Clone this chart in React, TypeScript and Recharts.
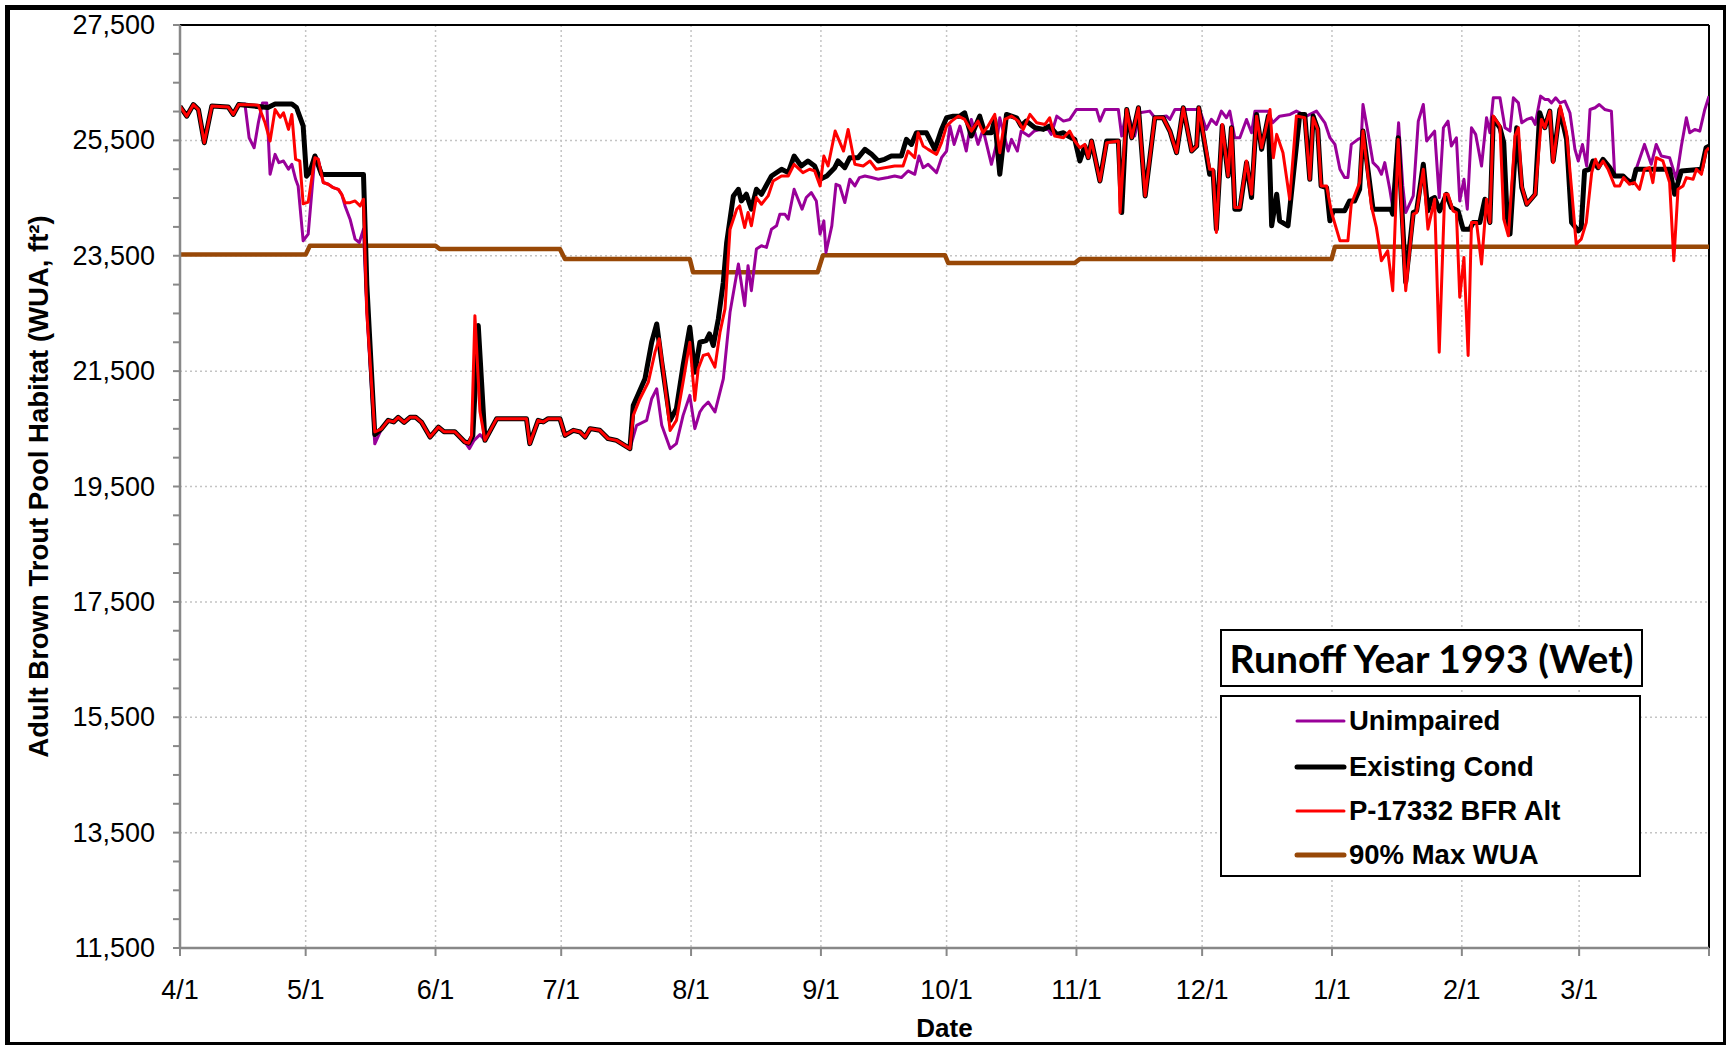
import React from 'react';
import { LineChart, Line, XAxis, YAxis, CartesianGrid, ReferenceLine } from 'recharts';

const W = 1727;
const H = 1046;

// x = day offset from April 1 (runoff year 1993), y = WUA (ft²)
const monthTicks = [0, 30, 61, 91, 122, 153, 183, 214, 244, 275, 306, 334, 365];
const monthLabels = ['4/1', '5/1', '6/1', '7/1', '8/1', '9/1', '10/1', '11/1', '12/1', '1/1', '2/1', '3/1', ''];
const yMajorTicks = [11500, 13500, 15500, 17500, 19500, 21500, 23500, 25500, 27500];
const yMinorStep = 500;

const unimpaired: [number, number][] = [
  [0, 26090], [1.6, 25920], [3.2, 26120], [4.4, 26036], [5.8, 25460], [7.6, 26094], [11.5, 26080], [12.7, 25950], [14, 26120],
  [15.5, 26130], [16.5, 25546], [17.7, 25373], [18.7, 25805], [19.7, 26150], [20.7, 26150], [21.5, 24912], [22.7, 25258],
  [23.6, 25114], [24.7, 25143], [25.9, 25000], [26.7, 25085], [27.6, 24826], [28.2, 24710], [29.4, 23760], [30.6, 23875],
  [32.2, 25229], [33, 25172], [34.2, 24770], [35.4, 24740], [36.6, 24680], [37.8, 24650], [38.6, 24565], [39.4, 24364],
  [40.6, 24134], [41.8, 23788], [42.8, 23730], [43.8, 23961], [44.6, 22520], [46.5, 20240], [48.1, 20500], [49.7, 20646],
  [51, 20620], [52.1, 20700], [53.5, 20610], [54.9, 20700], [56.3, 20700], [57.7, 20610], [59.7, 20358], [61.7, 20530],
  [63, 20450], [65.6, 20450], [68, 20272], [69.1, 20157], [70.2, 20300], [71.6, 20400], [72.8, 20300], [75.6, 20676],
  [82.7, 20676], [83.5, 20243], [85.5, 20646], [86.7, 20620], [87.9, 20676], [90.7, 20676], [91.9, 20387], [93.9, 20474],
  [95.5, 20445], [96.7, 20358], [97.9, 20503], [100.2, 20474], [102.2, 20330], [104.2, 20300], [107.4, 20157], [109, 20560],
  [111.4, 20646], [112.6, 21022], [113.8, 21194], [115, 20560], [117, 20157], [118.5, 20243], [120.1, 20733], [121.7, 21080],
  [122.9, 20503], [124.1, 20791], [124.9, 20878], [126.1, 20965], [127.7, 20791], [129.7, 21367], [131.3, 22520],
  [133.3, 23356], [134.8, 22635], [135.6, 23327], [136.4, 22895], [137.6, 23615], [138.8, 23673], [140, 23644],
  [141.2, 23961], [142.4, 24019], [143.2, 24220], [144.4, 24220], [145.2, 24134], [146.6, 24652], [148.5, 24307],
  [149.5, 24509], [150.7, 24595], [151.9, 24450], [152.8, 23875], [153.7, 24105], [154.2, 23557], [155.6, 24019],
  [156.6, 24739], [157.5, 24710], [158.7, 24422], [159.9, 24826], [161.1, 24710], [162.2, 24855], [163.5, 24883],
  [165.1, 24855], [166.7, 24826], [169, 24855], [170.6, 24883], [172.2, 24855], [173.8, 24970], [175.4, 24912],
  [176.4, 25229], [177.4, 25027], [178.6, 25085], [180.6, 24941], [181.8, 25200], [183, 25315], [183.8, 25748],
  [184.8, 25430], [186.2, 25748], [187.7, 25315], [188.9, 25863], [190.5, 25430], [191.7, 25690], [193.7, 25085],
  [194.9, 25430], [195.7, 25892], [197.7, 25315], [198.5, 25517], [199.9, 25315], [200.8, 25661], [202.6, 25575],
  [203.9, 25661], [205.6, 25690], [207.3, 25690], [208, 25604], [209.3, 25921], [210.9, 25834], [212.4, 25863],
  [214, 26036], [218.8, 26036], [219.6, 25834], [220.8, 26036], [224, 26036], [224.8, 25575], [226, 26036],
  [227.9, 25575], [229.1, 25978], [231.5, 26007], [232.7, 25892], [235.5, 25921], [236.3, 25863], [237.5, 26036],
  [243.4, 26036], [245, 25690], [246.2, 25863], [247.4, 25776], [248.6, 26007], [249.8, 25892], [250.6, 26007],
  [251.8, 25546], [253, 25546], [254.6, 25863], [255.8, 25632], [256.6, 26007], [259.8, 26007], [260.8, 25805],
  [262.5, 25920], [265, 25950], [266.5, 26007], [268.9, 25921], [271.3, 26007], [273.3, 25805], [274.5, 25546],
  [275.7, 25430], [276.9, 25000], [278, 24855], [278.8, 24855], [279.6, 25430], [281.2, 25517], [282, 25546],
  [282.4, 26122], [283.6, 25632], [284.8, 25114], [286, 25027], [286.8, 24912], [287.6, 25114], [288.8, 24652],
  [289.5, 24336], [290.9, 25805], [291.9, 24710], [292.6, 24249], [294.4, 24537], [295.6, 25834], [296.8, 26122],
  [297.6, 25490], [299.5, 25661], [300.6, 24509], [301.6, 25719], [302.7, 25834], [303.5, 25402], [304.7, 25546],
  [305.5, 24450], [306.5, 24826], [307.3, 24307], [308.3, 25719], [309.3, 25604], [310.7, 25056], [311.9, 25892],
  [312.7, 25632], [313.5, 26238], [315.1, 26238], [316.3, 25719], [317.5, 25661], [318.3, 26238], [319.5, 26150],
  [320.3, 25805], [321.5, 25863], [322.7, 25892], [323.5, 25776], [324.8, 26267], [325.8, 26210], [326.6, 26210],
  [327.4, 26150], [328.4, 26238], [329.4, 26150], [330.6, 26180], [331.8, 25978], [333, 25344], [333.8, 25143],
  [334.8, 25430], [335.8, 25056], [336.6, 26036], [337.8, 26065], [338.8, 26122], [340.1, 26036], [341.7, 26007],
  [342.5, 24883], [344.5, 24883], [346.8, 24768], [347.6, 25000], [349.6, 25430], [351.2, 25085], [352.4, 25430],
  [353.6, 25230], [355.6, 25200], [357.2, 24826], [358.4, 25402], [359.6, 25892], [360.4, 25632], [361.6, 25690],
  [362.8, 25661], [364, 26036], [365, 26267],
];

const existingCond: [number, number][] = [
  [0, 26090], [1.6, 25920], [3.2, 26120], [4.4, 26036], [5.8, 25460], [7.6, 26094], [11.5, 26080], [12.7, 25950], [14, 26120],
  [21, 26070], [22.7, 26130], [26.7, 26130], [27.8, 26070], [29.4, 25750], [30.2, 24880], [31, 24950], [32.2, 25230],
  [33.8, 24910], [43.8, 24910], [44.6, 23000], [46.5, 20400], [48.1, 20500], [49.7, 20646], [51, 20620], [52.1, 20700],
  [53.5, 20610], [54.9, 20700], [56.3, 20700], [57.7, 20610], [59.7, 20358], [61.7, 20530], [63, 20450], [65.6, 20450],
  [68, 20272], [68.9, 20250], [69.9, 20380], [71.2, 22290], [72.8, 20300], [75.6, 20676], [82.7, 20676], [83.5, 20243],
  [85.5, 20646], [86.7, 20620], [87.9, 20676], [90.7, 20676], [91.9, 20387], [93.9, 20474], [95.5, 20445], [96.7, 20358],
  [97.9, 20503], [100.2, 20474], [102.2, 20330], [104.2, 20300], [107.4, 20157], [108.2, 20906], [111, 21367],
  [112.6, 22000], [113.8, 22318], [115, 21655], [117, 20646], [118.5, 20850], [120.1, 21600], [121.7, 22260],
  [122.9, 21482], [124.1, 22000], [125.6, 22030], [126.4, 22145], [127.3, 21944], [128.5, 22400], [129.7, 23040],
  [130.5, 23730], [132.1, 24537], [133.3, 24652], [134, 24450], [135.2, 24566], [136.4, 24307], [137.6, 24652],
  [138.8, 24566], [141.2, 24883], [143.6, 25000], [145.2, 24941], [146.6, 25229], [148.3, 25056], [149.9, 25143],
  [151.5, 25056], [152.8, 24826], [154.4, 24883], [156.3, 25027], [157.1, 25143], [158.7, 25027], [159.9, 25200],
  [161.9, 25200], [163.5, 25344], [165.1, 25258], [166.7, 25143], [168.2, 25172], [169.8, 25229], [172.2, 25229],
  [173.4, 25517], [174.6, 25430], [175.8, 25632], [178.2, 25632], [180.2, 25344], [181.8, 25690], [183, 25892],
  [184.6, 25920], [186.2, 25920], [187.3, 25978], [188.9, 25575], [190.9, 25920], [192.1, 25632], [193.7, 25632],
  [194.5, 25863], [195.7, 24912], [197.3, 25950], [198.5, 25921], [199.7, 25892], [200.8, 25748], [202, 25834],
  [204.1, 25719], [206.1, 25690], [207.6, 25748], [209.3, 25604], [210.9, 25632], [212, 25575], [213.6, 25517],
  [214.8, 25143], [216, 25402], [216.8, 25200], [217.6, 25489], [219.6, 24797], [221.2, 25489], [224, 25489],
  [224.8, 24249], [226, 26036], [227.2, 25546], [228.8, 26065], [230.4, 24537], [232.7, 25892], [234.7, 25892],
  [236.3, 25661], [237.9, 25287], [239.5, 26065], [241.5, 25315], [242.7, 25402], [243.2, 26065], [245.8, 24912],
  [246.6, 24970], [247.4, 23961], [248.8, 25748], [250.2, 24883], [251, 25719], [251.8, 24307], [253, 24307],
  [254.6, 25114], [255.8, 24509], [257, 25950], [258.2, 25344], [259.8, 25920], [260.6, 24019], [261.8, 24566],
  [262.5, 24105], [264.5, 24019], [267.3, 25950], [268.5, 25950], [269.7, 24826], [270.5, 25921], [271.6, 25690],
  [272.4, 24710], [273.7, 24681], [274.5, 24105], [275.3, 24278], [278, 24278], [279.2, 24450], [280.4, 24450],
  [281.6, 24652], [282.4, 25661], [284.8, 24307], [289.1, 24307], [289.5, 24220], [290.8, 25546], [292.6, 23039],
  [294.4, 24249], [295.2, 24278], [296.8, 25085], [297.9, 24278], [298.7, 24480], [299.5, 24509], [300.7, 24278],
  [302.3, 24566], [303.5, 24336], [305.1, 24278], [306.3, 23961], [307.9, 23961], [308.7, 24076], [310.3, 24076],
  [311.5, 24480], [312.7, 24076], [313.5, 25892], [315.1, 25719], [316, 25460], [316.8, 24192], [317.5, 23875],
  [319.1, 25719], [320.3, 24681], [321.5, 24393], [323.5, 24566], [324.6, 25978], [325.8, 25719], [327, 26007],
  [327.8, 25143], [329.4, 26036], [331, 25517], [332.2, 24076], [333.8, 23932], [334.5, 23990], [335.3, 24970],
  [336.6, 25000], [337.3, 25143], [338.5, 25027], [339.7, 25172], [341.3, 25027], [342.5, 24883], [344.5, 24883],
  [345.7, 24797], [346.8, 24768], [347.6, 25000], [355.6, 25000], [356.8, 24566], [358.4, 24970], [363.2, 25000],
  [364.3, 25373], [365, 25400],
];

const bfrAlt: [number, number][] = [
  [0, 26090], [1.6, 25920], [3.2, 26120], [4.4, 26036], [5.8, 25460], [7.6, 26094], [11.5, 26080], [12.7, 25950], [14, 26120],
  [18.7, 26110], [20.3, 25805], [21.5, 25490], [22.7, 26036], [23.9, 25900], [24.7, 25978], [25.9, 25690], [26.7, 25950],
  [27.6, 25172], [28.6, 25143], [29.4, 24400], [30.6, 24430], [32.2, 25200], [33, 25172], [34.2, 24770], [35.4, 24740],
  [36.6, 24680], [37.8, 24650], [38.6, 24565], [39.4, 24420], [40.6, 24420], [41.8, 24450], [43, 24364], [43.8, 24480],
  [44.6, 22520], [46.5, 20445], [48.1, 20500], [49.7, 20646], [51, 20620], [52.1, 20700], [53.5, 20610], [54.9, 20700],
  [56.3, 20700], [57.7, 20610], [59.7, 20358], [61.7, 20530], [63, 20450], [65.6, 20450], [68, 20272], [68.9, 20250],
  [69.6, 20380], [70.4, 22462], [71.6, 20800], [72.8, 20300], [75.6, 20676], [82.7, 20676], [83.5, 20243], [85.5, 20646],
  [86.7, 20620], [87.9, 20676], [90.7, 20676], [91.9, 20387], [93.9, 20474], [95.5, 20445], [96.7, 20358], [97.9, 20503],
  [100.2, 20474], [102.2, 20330], [104.2, 20300], [107.4, 20157], [108.2, 20733], [109.8, 21022], [111.8, 21310],
  [113.4, 21830], [114.4, 22060], [115.4, 21482], [117, 20470], [118.5, 20646], [120.1, 21310], [121.7, 22000],
  [122.9, 20993], [123.7, 21540], [124.9, 21771], [126.1, 21800], [127.7, 21569], [128.9, 22170], [130.1, 22580],
  [131.3, 23961], [132.9, 24307], [133.6, 24364], [134.8, 23990], [135.6, 24250], [136.4, 24019], [137.6, 24509],
  [138.8, 24393], [140.4, 24537], [141.6, 24797], [143.6, 24883], [145.2, 24883], [146.6, 25085], [148.7, 24941],
  [150.3, 25000], [151.5, 24970], [152.8, 24710], [153.7, 25229], [154.7, 25056], [156.4, 25661], [158.4, 25315],
  [159.5, 25690], [161.1, 25085], [163.1, 25056], [164.7, 25143], [166.2, 25000], [168.2, 25027], [170.6, 25056],
  [172.6, 25056], [173.8, 25315], [175.4, 25200], [176.2, 25632], [177.4, 25402], [178.6, 25344], [180.6, 25258],
  [181.8, 25460], [183, 25748], [184.2, 25834], [185.8, 25920], [187.3, 25863], [188.9, 25661], [190.5, 25834],
  [191.7, 25632], [192.9, 25748], [194.5, 25950], [195.7, 25287], [196.9, 25863], [198.5, 25921], [200.1, 25834],
  [201.3, 25690], [202.9, 25950], [204.5, 25805], [206.5, 25776], [207.6, 25892], [208.8, 25575], [210.9, 25546],
  [212.4, 25661], [213.6, 25489], [214.8, 25373], [216, 25430], [216.8, 25200], [217.6, 25489], [219.6, 24797],
  [221.2, 25460], [224, 25489], [224.4, 24249], [226, 26036], [227.2, 25546], [228.8, 26065], [230.4, 24537],
  [232.7, 25892], [234.7, 25892], [236.3, 25661], [237.9, 25287], [239.5, 26065], [241.5, 25315], [242.7, 25402],
  [243.2, 26065], [245.8, 25000], [246.6, 25000], [247.4, 23904], [248.8, 25776], [250.2, 24883], [251, 25719],
  [251.8, 24336], [253, 24336], [254.6, 25143], [255.8, 24566], [257, 25920], [258.2, 25373], [260.2, 26036],
  [261, 25200], [261.8, 25604], [263.3, 25287], [264.9, 24480], [266.5, 25921], [268.5, 25892], [269.7, 24826],
  [270.5, 25892], [271.6, 25690], [272.4, 24710], [273.7, 24710], [274.9, 24249], [276.9, 23759], [278.8, 23759],
  [279.6, 24393], [281.6, 24768], [282.4, 25661], [284.4, 24364], [285.6, 23990], [286.8, 23413], [288.3, 23586],
  [289.5, 22895], [290.8, 25517], [292.6, 22895], [294.4, 24220], [295.2, 24249], [296.8, 25000], [297.9, 23961],
  [299.5, 24480], [300.6, 21828], [301.9, 24566], [302.7, 24566], [303.9, 24278], [304.7, 24249], [305.5, 22780],
  [306.5, 23471], [307.5, 21770], [308.3, 24076], [309.5, 24076], [310.7, 23356], [311.9, 24480], [312.7, 24076],
  [313.5, 25921], [315.1, 25748], [316, 24134], [317.1, 23846], [318.7, 25575], [319.5, 25719], [320.3, 24710],
  [321.5, 24393], [323.5, 24566], [325, 25863], [325.8, 25719], [327, 26007], [327.8, 25114], [329.5, 26094],
  [331, 25632], [332.2, 24652], [333.3, 23702], [334.5, 23788], [335.7, 24076], [337, 24941], [337.9, 25172],
  [338.7, 25027], [339.7, 25143], [340.9, 25000], [342.5, 24710], [343.7, 24710], [344.6, 24855], [346, 24740],
  [347.2, 24768], [348.4, 24652], [349.6, 25000], [350.8, 25027], [351.6, 24768], [352.4, 25200], [354, 25143],
  [355.6, 24768], [356.6, 23413], [357.6, 24652], [358.8, 24710], [359.6, 24855], [361.2, 24826], [362, 25000],
  [363.2, 24912], [364.3, 25315], [365, 25373],
];

const maxWua90: [number, number][] = [
  [0, 23520], [30, 23520], [31, 23673], [61, 23673], [62, 23615], [90.7, 23615], [91.9, 23442], [121.7, 23442],
  [122.5, 23212], [152.2, 23212], [153.5, 23510], [182.6, 23510], [183.4, 23373], [213.6, 23373], [214.8, 23442],
  [274.9, 23442], [275.7, 23656], [365, 23656],
];

const seriesNames = ['Unimpaired', 'Existing Cond', 'P-17332 BFR Alt', '90% Max WUA'];
const seriesColors = ['#990099', '#000000', '#ff0000', '#984807'];
const seriesWidths = [3, 5, 3, 4.5];
const legendWidths = [3, 5, 3, 5];

const toPoints = (arr: [number, number][]) => arr.map(([d, v]) => ({ d, v }));

const yTicks: number[] = [];
for (let t = yMajorTicks[0]; t <= yMajorTicks[yMajorTicks.length - 1]; t += yMinorStep) yTicks.push(t);
const majorSet = new Set(yMajorTicks);

const FONT = '"Liberation Sans", Arial, sans-serif';

const YTick = (props: any) => {
  const { x, y, payload } = props;
  if (!majorSet.has(payload.value)) return <g />;
  return (
    <text x={x} y={y} textAnchor="end" dominantBaseline="central" fontSize={27} fontFamily={FONT} fill="#000">
      {Number(payload.value).toLocaleString('en-US')}
    </text>
  );
};

const YLabel = (props: any) => {
  const vb = props.viewBox || { x: 0, y: 25, width: 180, height: 923 };
  const cx = 38.5;
  const cy = vb.y + vb.height / 2;
  return (
    <text x={cx} y={cy} transform={`rotate(-90, ${cx}, ${cy})`} textAnchor="middle" dominantBaseline="central"
      fontSize={27.5} fontWeight="bold" fontFamily={FONT} fill="#000">
      Adult Brown Trout Pool Habitat (WUA, ft²)
    </text>
  );
};

const XLabel = (props: any) => {
  const vb = props.viewBox || { x: 180, y: 948, width: 1529, height: 98 };
  const cx = vb.x + vb.width / 2;
  return (
    <text x={cx} y={1037} textAnchor="middle" fontSize={26} fontWeight="bold" fontFamily={FONT} fill="#000">
      Date
    </text>
  );
};

export default function App() {
  const seriesData = [unimpaired, existingCond, bfrAlt, maxWua90].map(toPoints);
  const drawOrder = [3, 0, 1, 2];
  return (
    <div style={{ position: 'absolute', left: 0, top: 0, width: W, height: H, background: '#fff', fontFamily: FONT }}>
      <LineChart width={W} height={H} margin={{ top: 25, right: 18, bottom: 0, left: 0 }}>
        <CartesianGrid stroke="#c4c4c4" strokeWidth={1.5} strokeDasharray="2 3"
          horizontalValues={yMajorTicks.slice(0, -1)} verticalValues={monthTicks} />
        <XAxis type="number" dataKey="d" domain={[0, 365]} ticks={monthTicks} interval={0} height={98}
          tickFormatter={(v: number) => monthLabels[monthTicks.indexOf(v)] ?? ''}
          axisLine={{ stroke: '#888888', strokeWidth: 2.5 }} tickLine={{ stroke: '#888888', strokeWidth: 2 }}
          tickSize={8} tickMargin={24} tick={{ fontSize: 27, fill: '#000', fontFamily: FONT }}
          label={<XLabel />} allowDataOverflow />
        <YAxis type="number" domain={[11500, 27500]} ticks={yTicks} interval={0} width={180}
          axisLine={{ stroke: '#888888', strokeWidth: 2.5 }} tickLine={{ stroke: '#888888', strokeWidth: 2 }}
          tickSize={7} tickMargin={18} tick={<YTick />} label={<YLabel />} allowDataOverflow />
        <ReferenceLine y={27500} stroke="#000" strokeWidth={2} />
        <ReferenceLine x={365} stroke="#000" strokeWidth={2} />
        {drawOrder.map((i) => (
          <Line key={seriesNames[i]} data={seriesData[i]} dataKey="v" name={seriesNames[i]} type="linear"
            stroke={seriesColors[i]} strokeWidth={seriesWidths[i]} dot={false} activeDot={false}
            strokeLinejoin="round" isAnimationActive={false} />
        ))}
      </LineChart>

      {/* title box */}
      <div style={{ position: 'absolute', left: 1220, top: 629, width: 423, height: 58, boxSizing: 'border-box',
        border: '2px solid #000', display: 'flex', alignItems: 'center', justifyContent: 'center',
        fontFamily: 'Lato, "Open Sans", sans-serif', fontWeight: 700, fontSize: 39, color: '#000', background: '#fff',
        whiteSpace: 'nowrap' }}>
        Runoff Year 1993 (Wet)
      </div>
      {/* legend box */}
      <div style={{ position: 'absolute', left: 1220, top: 695, width: 421, height: 182, boxSizing: 'border-box',
        border: '2px solid #000', background: '#fff' }}>
        {seriesNames.map((name, i) => {
          const cy = [24, 70, 114, 158][i];
          return (
            <div key={name} style={{ position: 'absolute', left: 0, top: cy - 20, height: 40, width: 417 }}>
              <svg width={60} height={40} style={{ position: 'absolute', left: 72, top: 0 }}>
                <line x1={3} x2={50} y1={20} y2={20} stroke={seriesColors[i]} strokeWidth={legendWidths[i]} strokeLinecap="round" />
              </svg>
              <div style={{ position: 'absolute', left: 127, top: 0, height: 40, lineHeight: '40px', fontFamily: FONT,
                fontWeight: 700, fontSize: 27.5, color: '#000', whiteSpace: 'nowrap' }}>{name}</div>
            </div>
          );
        })}
      </div>
      {/* outer frame */}
      <div style={{ position: 'absolute', left: 5, top: 5, width: 1721, height: 1040, boxSizing: 'border-box',
        borderTop: '5px solid #000', borderLeft: '5px solid #000', borderRight: '3px solid #000', borderBottom: '3px solid #000',
        pointerEvents: 'none' }} />
    </div>
  );
}
